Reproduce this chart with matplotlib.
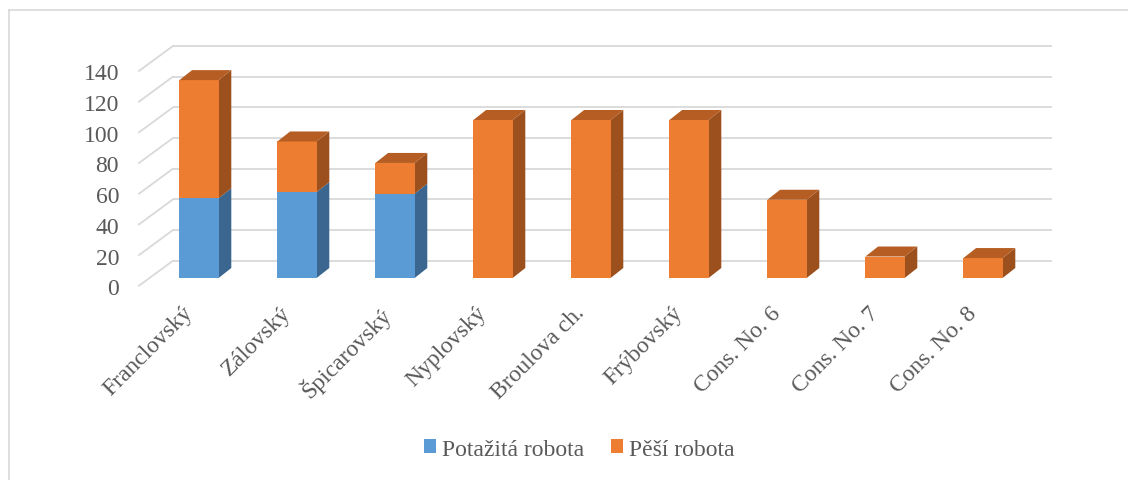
import matplotlib
matplotlib.use("Agg")
import matplotlib.pyplot as plt
from matplotlib.patches import Polygon, Patch
import numpy as np

# data
categories = ["Franclovský", "Zálovský", "Špicarovský", "Nyplovský", "Broulova ch.",
              "Frýbovský", "Cons. No. 6", "Cons. No. 7", "Cons. No. 8"]
potazita = [52, 56, 55, 0, 0, 0, 0, 0, 0]
pesi = [77, 33, 20, 103, 103, 103, 51, 14, 13]
series_names = ["Potažitá robota", "Pěší robota"]
yticks = [0, 20, 40, 60, 80, 100, 120, 140]

# colours
BLUE = "#5B9BD5"
BLUE_SIDE = "#3A668F"
ORANGE = "#ED7D31"
ORANGE_SIDE = "#9C501E"
ORANGE_TOP = "#B55D22"
GRID = "#D9D9D9"
TXT = "#595959"

plt.rcParams["font.family"] = ["Liberation Serif", "DejaVu Serif"]

W, H = 1128, 481
fig = plt.figure(figsize=(W / 100, H / 100), dpi=100)
ax = fig.add_axes([0, 0, 1, 1])

# pixel scale: 98 px per category, 1.534 px per unit
PX_X = 98.0
PX_Y = 1.534
ax.set_xlim(-199 / PX_X, (W - 199) / PX_X)
ax.set_ylim(-(H - 279) / PX_Y, 279 / PX_Y)
ax.axis("off")

# 3d offsets (in data units)
bw = 0.40
ddx, ddy = 12.7 / PX_X, 10 / PX_Y          # bar depth
back_dx, back_dy = 23.5 / PX_X, 17.3 / PX_Y  # back wall from bar front
front_dx, front_dy = -10.5 / PX_X, -7.7 / PX_Y
wall_left = -0.265
wall_right = (1052 - 199) / PX_X

# back wall and side wall gridlines
for v in yticks:
    ax.plot([wall_left, wall_right], [v + back_dy, v + back_dy], color=GRID, lw=1.3, zorder=1,
            solid_capstyle="butt")
    ax.plot([wall_left - (back_dx - front_dx), wall_left], [v + front_dy, v + back_dy],
            color=GRID, lw=1.3, zorder=1)
    ax.text(wall_left - (back_dx - front_dx) - 20 / PX_X, v + front_dy - 3 / PX_Y, str(v),
            ha="right", va="center", fontsize=17, color=TXT)

x = np.arange(len(categories))


def draw_segment(xi, b, h, front, side, top=None):
    ax.bar(xi, h, width=bw, bottom=b, color=front, zorder=3, linewidth=0)
    r = xi + bw / 2
    l = xi - bw / 2
    ax.add_patch(Polygon([(r, b), (r, b + h), (r + ddx, b + h + ddy), (r + ddx, b + ddy)],
                         closed=True, facecolor=side, edgecolor="none", zorder=2))
    if top is not None:
        ax.add_patch(Polygon([(l, b + h), (r, b + h), (r + ddx, b + h + ddy), (l + ddx, b + h + ddy)],
                             closed=True, facecolor=top, edgecolor="none", zorder=4))


for i in range(len(categories)):
    b = 0
    if potazita[i] > 0:
        draw_segment(x[i], b, potazita[i], BLUE, BLUE_SIDE)
        b += potazita[i]
    if pesi[i] > 0:
        draw_segment(x[i], b, pesi[i], ORANGE, ORANGE_SIDE, ORANGE_TOP)

# category labels
for i, name in enumerate(categories):
    ax.text(x[i] - 17 / PX_X, -24 / PX_Y, name, rotation=45, rotation_mode="anchor",
            ha="right", va="top", fontsize=17, color=TXT)

# legend
handles = [Patch(facecolor=BLUE, edgecolor="none"), Patch(facecolor=ORANGE, edgecolor="none")]
leg = fig.legend(handles, series_names, loc="center", bbox_to_anchor=(579.5 / W, 1 - 450 / H),
                 ncol=2, frameon=False, fontsize=17, handlelength=0.5, handleheight=0.5,
                 handletextpad=0.25, columnspacing=1.15, borderpad=0)
for t in leg.get_texts():
    t.set_color(TXT)

# chart border (top and left only visible)
fig.add_artist(plt.Line2D([9 / W, 1], [1 - 11 / H, 1 - 11 / H], color=GRID, lw=1.2))
fig.add_artist(plt.Line2D([9 / W, 9 / W], [0, 1 - 11 / H], color=GRID, lw=1.2))

fig.savefig("out.png", dpi=100)
